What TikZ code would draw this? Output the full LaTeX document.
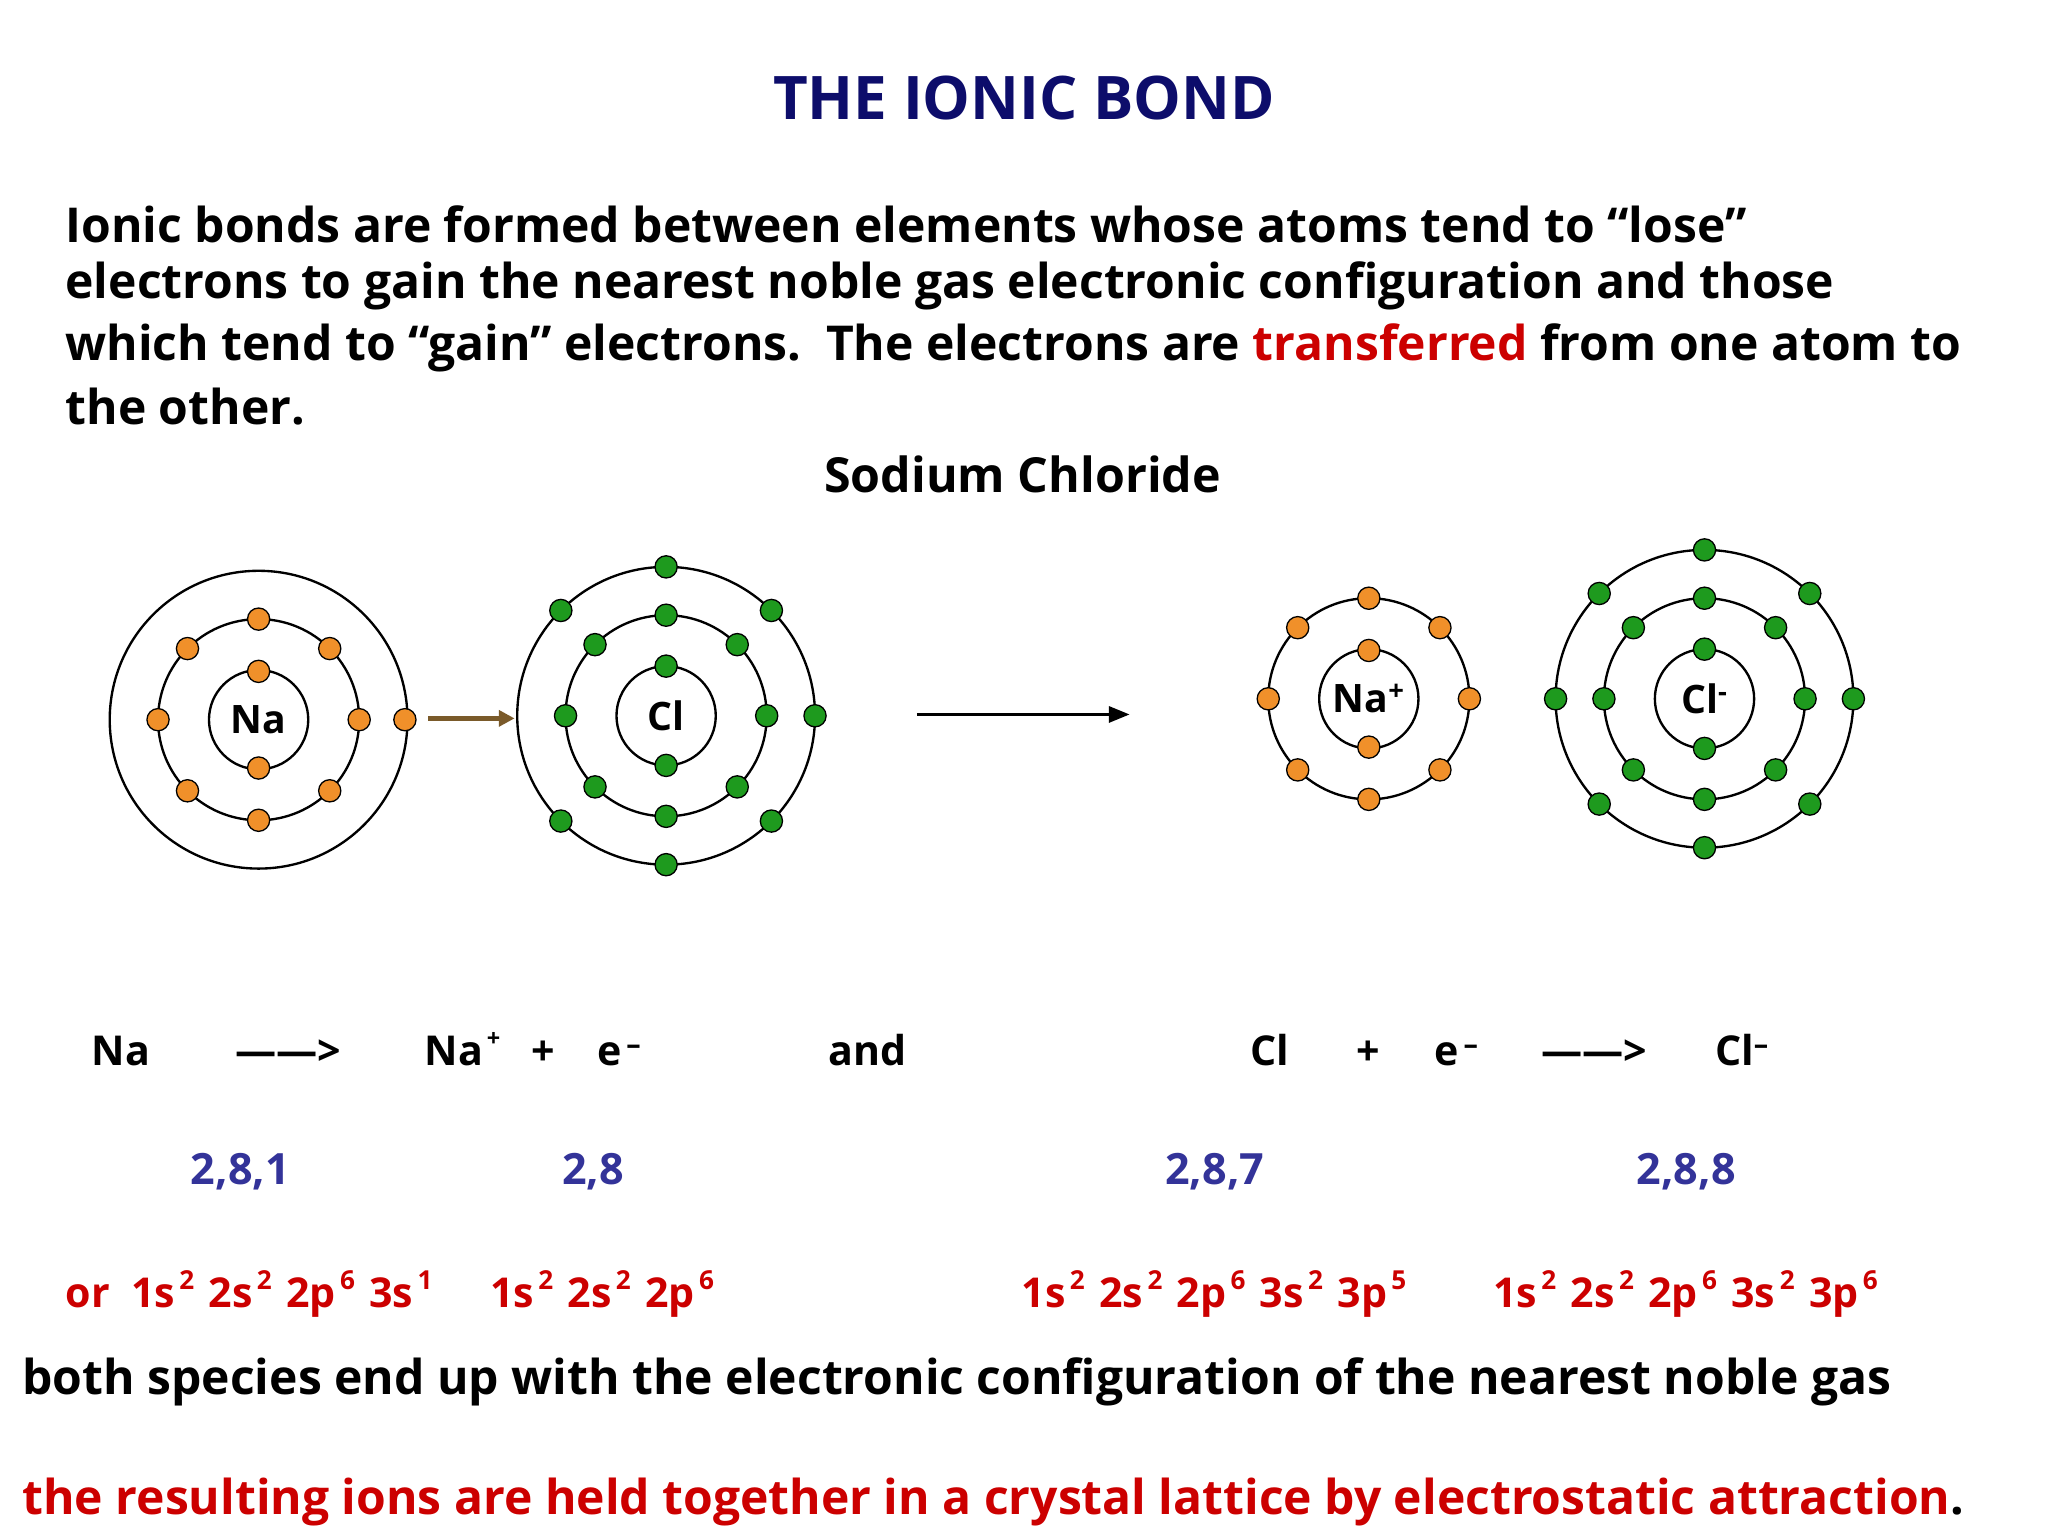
\documentclass[tikz,border=0pt]{standalone}
\usepackage{fontspec}
\setmainfont{Open Sans}
\usetikzlibrary{arrows.meta}
\definecolor{navy}{HTML}{0D0D6B}
\definecolor{rd}{HTML}{CC0000}
\definecolor{bl}{HTML}{333399}
\definecolor{eor}{HTML}{F0902A}
\definecolor{egr}{HTML}{1E9A1E}
\definecolor{brn}{HTML}{7A5A2A}
\tikzset{
 shell/.style={draw,line width=1.8pt,circle,inner sep=0pt},
 eo/.style={circle,draw,line width=1pt,fill=eor,minimum size=17pt,inner sep=0pt},
 eg/.style={circle,draw,line width=1pt,fill=egr,minimum size=17pt,inner sep=0pt},
 txt/.style={font=\fontsize{36.8}{47}\selectfont\bfseries,anchor=west,inner sep=0pt},
 eq/.style={font=\fontsize{31.5}{36}\selectfont\bfseries,inner sep=0pt,anchor=base west},
 cfg/.style={font=\fontsize{31.5}{36}\selectfont\bfseries,inner sep=0pt,anchor=base west,text=rd},
 blu/.style={font=\fontsize{33}{36}\selectfont\bfseries,inner sep=0pt,text=bl},
 sym/.style={font=\fontsize{30}{32}\selectfont\bfseries}
}
\newcommand{\su}[1]{\raisebox{14pt}{\fontsize{20}{20}\selectfont\,#1}\hspace{11pt}}
\newcommand{\sm}[1]{\raisebox{15pt}{\fontsize{18}{18}\selectfont\,#1}}
\begin{document}
\begin{tikzpicture}[x=1pt,y=-1pt]
\useasboundingbox (0,0) rectangle (1568,1176);
\node[font=\fontsize{46}{52}\selectfont\bfseries,text=navy] (title) at (784,75) {THE IONIC BOND};
\node[txt] (p1) at (50,172) {Ionic bonds are formed between elements whose atoms tend to “lose”};
\node[txt] (p2) at (50,219) {electrons to gain the nearest noble gas electronic configuration and those};
\node[txt] (p3) at (50,266) {which tend to “gain” electrons.\ \ The electrons are \textcolor{rd}{transferred} from one atom to};
\node[txt] (p4) at (50,311) {the other.};
\node[font=\fontsize{37}{40}\selectfont\bfseries] (sc) at (783,363) {Sodium Chloride};
% Na atom
\begin{scope}[shift={(198,551)}]
\node[shell,minimum size=76pt] (na1) at (0,0) {};
\node[sym] at (na1) {Na};
\node[shell,minimum size=154pt] (na2) at (0,0) {};
\node[shell,minimum size=228pt] (na3) at (0,0) {};
\foreach \a in {90,270} \node[eo] at (\a:37) {};
\foreach \a in {0,45,...,315} \node[eo] at (\a:77) {};
\node[eo] (nae) at (0:112) {};
\end{scope}
% Cl atom
\begin{scope}[shift={(510,548)}]
\node[shell,minimum size=76pt] (cl1) at (0,0) {};
\node[sym] at (cl1) {Cl};
\node[shell,minimum size=154pt] (cl2) at (0,0) {};
\node[shell,minimum size=228pt] (cl3) at (0,0) {};
\foreach \a in {90,270} \node[eg] at (\a:38) {};
\foreach \a in {0,45,...,315} \node[eg] at (\a:77) {};
\foreach \a in {0,45,90,135,225,270,315} \node[eg] at (\a:114) {};
\end{scope}
\coordinate (ta) at (328,550); \coordinate (tb) at (394,550);
\draw[brn,line width=3.5pt,-{Triangle[length=12pt,width=12pt]}] (ta) -- (tb);
\coordinate (ba) at (702,547); \coordinate (bb) at (865,547);
\draw[line width=3pt,-{Triangle[length=16pt,width=12pt]}] (ba) -- (bb);
% Na+
\begin{scope}[shift={(1048,535)}]
\node[shell,minimum size=76pt] (np1) at (0,0) {};
\node[sym] at (np1) {Na\textsuperscript{+}};
\node[shell,minimum size=154pt] (np2) at (0,0) {};
\foreach \a in {90,270} \node[eo] at (\a:37) {};
\foreach \a in {0,45,...,315} \node[eo] at (\a:77) {};
\end{scope}
% Cl-
\begin{scope}[shift={(1305,535)}]
\node[shell,minimum size=76pt] (cm1) at (0,0) {};
\node[sym] at (cm1) {Cl\textsuperscript{-}};
\node[shell,minimum size=154pt] (cm2) at (0,0) {};
\node[shell,minimum size=228pt] (cm3) at (0,0) {};
\foreach \a in {90,270} \node[eg] at (\a:38) {};
\foreach \a in {0,45,...,315} \node[eg] at (\a:77) {};
\foreach \a in {0,45,...,315} \node[eg] at (\a:114) {};
\end{scope}
% equations
\node[eq] (e1) at (70,816) {Na};
\node[eq] (e2) at (180,816) {——>};
\node[eq] (e3) at (325,816) {Na\sm{+}};
\node[eq] (e4) at (407,816) {+};
\node[eq] (e5) at (457,816) {e\textsuperscript{\,–}};
\node[eq] (e6) at (634,816) {and};
\node[eq] (e7) at (957,816) {Cl};
\node[eq] (e8) at (1038,816) {+};
\node[eq] (e9) at (1098,816) {e\textsuperscript{\,–}};
\node[eq] (e10) at (1180,816) {——>};
\node[eq] (e11) at (1313,816) {Cl\textsuperscript{–}};
\node[blu] (b1) at (184,897) {2,8,1};
\node[blu] (b2) at (454,897) {2,8};
\node[blu] (b3) at (930,897) {2,8,7};
\node[blu] (b4) at (1291,897) {2,8,8};
\node[cfg] (c1) at (50,1001) {or\ \ 1s\su{2}2s\su{2}2p\su{6}3s\su{1}};
\node[cfg] (c2) at (375,1001) {1s\su{2}2s\su{2}2p\su{6}};
\node[cfg] (c3) at (782,1001) {1s\su{2}2s\su{2}2p\su{6}3s\su{2}3p\su{5}};
\node[cfg] (c4) at (1143,1001) {1s\su{2}2s\su{2}2p\su{6}3s\su{2}3p\su{6}};
\node[txt] (l1) at (17,1058) {both species end up with the electronic configuration of the nearest noble gas};
\node[txt] (l2) at (17,1150) {\textcolor{rd}{the resulting ions are held together in a crystal lattice by electrostatic attraction}.};
\end{tikzpicture}
\end{document}
